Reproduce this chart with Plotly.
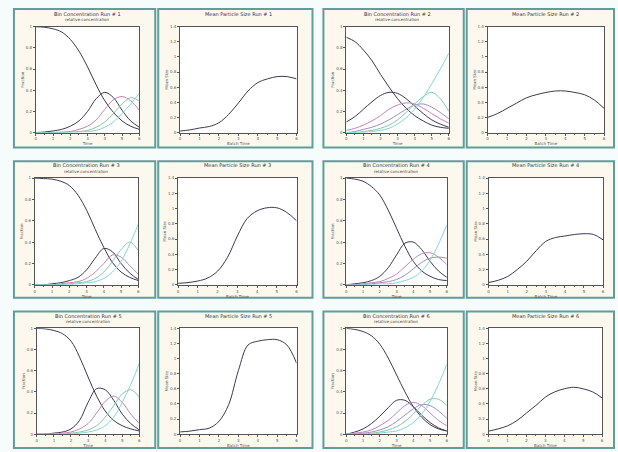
import plotly.graph_objects as go

# ---------------- data ----------------
x_time = [0, 0.5, 1, 1.5, 2, 2.5, 3, 3.5, 4, 4.5, 5, 5.5, 6]
run_labels = ["1", "2", "3", "4", "5", "6"]

# run 1
r1_decay = [1.0, 0.995, 0.98, 0.95, 0.88, 0.77, 0.62, 0.45, 0.30, 0.19, 0.11, 0.06, 0.03]
r1_bin2 = [0, 0.005, 0.015, 0.03, 0.06, 0.11, 0.20, 0.32, 0.38, 0.33, 0.21, 0.11, 0.05]
r1_bin3 = [0, 0, 0, 0.005, 0.01, 0.03, 0.06, 0.12, 0.22, 0.31, 0.34, 0.30, 0.21]
r1_bin4 = [0, 0, 0, 0, 0.005, 0.01, 0.02, 0.05, 0.10, 0.18, 0.27, 0.33, 0.30]
r1_bin5 = [0, 0, 0, 0, 0, 0.005, 0.01, 0.02, 0.05, 0.10, 0.18, 0.27, 0.37]
r1_size = [0.02, 0.035, 0.06, 0.08, 0.13, 0.24, 0.39, 0.55, 0.66, 0.71, 0.74, 0.74, 0.71]

# run 2
r2_decay = [0.9, 0.86, 0.78, 0.68, 0.55, 0.43, 0.32, 0.23, 0.16, 0.11, 0.07, 0.05, 0.04]
r2_bin2 = [0.1, 0.15, 0.22, 0.29, 0.35, 0.38, 0.37, 0.32, 0.25, 0.18, 0.12, 0.08, 0.05]
r2_bin3 = [0.02, 0.04, 0.07, 0.11, 0.16, 0.22, 0.26, 0.28, 0.27, 0.23, 0.18, 0.13, 0.09]
r2_bin4 = [0, 0.01, 0.03, 0.05, 0.08, 0.12, 0.17, 0.22, 0.26, 0.27, 0.24, 0.19, 0.13]
r2_bin5 = [0, 0, 0.01, 0.02, 0.04, 0.07, 0.12, 0.19, 0.27, 0.34, 0.38, 0.32, 0.20]
r2_bin6 = [0, 0, 0, 0.01, 0.02, 0.04, 0.08, 0.14, 0.22, 0.33, 0.46, 0.60, 0.75]
r2_size = [0.20, 0.25, 0.32, 0.39, 0.46, 0.50, 0.53, 0.55, 0.55, 0.53, 0.50, 0.43, 0.32]

# run 3
r3_decay = [1.0, 0.995, 0.99, 0.97, 0.93, 0.84, 0.70, 0.52, 0.35, 0.21, 0.12, 0.07, 0.04]
r3_bin2 = [0, 0, 0.01, 0.02, 0.04, 0.07, 0.14, 0.25, 0.34, 0.31, 0.20, 0.11, 0.05]
r3_bin3 = [0, 0, 0, 0.01, 0.02, 0.03, 0.06, 0.12, 0.20, 0.28, 0.26, 0.18, 0.10]
r3_bin4 = [0, 0, 0, 0, 0.01, 0.02, 0.03, 0.06, 0.12, 0.22, 0.33, 0.40, 0.32]
r3_bin5 = [0, 0, 0, 0, 0, 0.01, 0.02, 0.03, 0.06, 0.12, 0.22, 0.38, 0.57]
r3_size = [0.02, 0.03, 0.05, 0.09, 0.18, 0.36, 0.64, 0.87, 0.97, 1.01, 1.01, 0.95, 0.84]

# run 4
r4_decay = [1.0, 0.99, 0.97, 0.92, 0.84, 0.70, 0.53, 0.36, 0.22, 0.13, 0.08, 0.05, 0.04]
r4_bin2 = [0, 0.01, 0.02, 0.04, 0.08, 0.16, 0.28, 0.39, 0.40, 0.33, 0.22, 0.13, 0.07]
r4_bin3 = [0, 0, 0.01, 0.02, 0.03, 0.06, 0.10, 0.17, 0.24, 0.29, 0.30, 0.26, 0.19]
r4_bin4 = [0, 0, 0, 0.01, 0.02, 0.03, 0.05, 0.09, 0.15, 0.21, 0.25, 0.26, 0.25]
r4_bin5 = [0, 0, 0, 0, 0.01, 0.01, 0.02, 0.04, 0.07, 0.13, 0.23, 0.38, 0.56]
r4_size = [0.03, 0.06, 0.11, 0.20, 0.31, 0.45, 0.57, 0.62, 0.64, 0.66, 0.67, 0.66, 0.59]

# run 5
r5_decay = [1.0, 0.995, 0.98, 0.95, 0.88, 0.73, 0.54, 0.36, 0.22, 0.13, 0.08, 0.05, 0.03]
r5_bin2 = [0, 0, 0.01, 0.02, 0.05, 0.13, 0.30, 0.43, 0.42, 0.32, 0.19, 0.10, 0.04]
r5_bin3 = [0, 0, 0, 0.01, 0.02, 0.05, 0.10, 0.20, 0.31, 0.36, 0.30, 0.19, 0.10]
r5_bin4 = [0, 0, 0, 0, 0.01, 0.02, 0.04, 0.08, 0.16, 0.27, 0.38, 0.42, 0.35]
r5_bin5 = [0, 0, 0, 0, 0, 0.01, 0.02, 0.04, 0.08, 0.16, 0.30, 0.47, 0.67]
r5_size = [0.03, 0.04, 0.06, 0.08, 0.17, 0.39, 0.84, 1.18, 1.23, 1.25, 1.25, 1.18, 0.94]

# run 6
r6_decay = [1.0, 0.99, 0.97, 0.93, 0.85, 0.72, 0.56, 0.40, 0.26, 0.16, 0.09, 0.05, 0.03]
r6_bin2 = [0, 0.02, 0.05, 0.10, 0.17, 0.25, 0.32, 0.32, 0.26, 0.18, 0.11, 0.06, 0.03]
r6_bin3 = [0, 0.01, 0.02, 0.04, 0.08, 0.13, 0.20, 0.27, 0.30, 0.27, 0.20, 0.13, 0.08]
r6_bin4 = [0, 0, 0.01, 0.02, 0.04, 0.07, 0.12, 0.18, 0.24, 0.28, 0.27, 0.22, 0.15]
r6_bin5 = [0, 0, 0, 0.01, 0.02, 0.04, 0.07, 0.12, 0.19, 0.27, 0.33, 0.33, 0.27]
r6_bin6 = [0, 0, 0, 0, 0.01, 0.02, 0.03, 0.06, 0.11, 0.19, 0.31, 0.47, 0.66]
r6_size = [0.04, 0.07, 0.11, 0.18, 0.28, 0.38, 0.49, 0.56, 0.60, 0.62, 0.60, 0.56, 0.48]

left_ticks = [0, 0.2, 0.4, 0.6, 0.8, 1.0]
right_ticks = [0, 0.2, 0.4, 0.6, 0.8, 1.0, 1.2, 1.4]
time_ticks = [0, 1, 2, 3, 4, 5, 6]

# ---------------- styling ----------------
C_DARK = "#3c3852"
C_PINK = "#c283b9"
C_PURP = "#9d8cc6"
C_GREEN = "#86c7a2"
C_CYAN = "#84d5d4"
FRAME = "#5e9f9b"
CREAM = "#fcf8ee"

runs = [
    ([(r1_decay, C_DARK), (r1_bin2, C_DARK), (r1_bin3, C_PINK), (r1_bin4, C_GREEN), (r1_bin5, C_CYAN)], r1_size),
    ([(r2_decay, C_DARK), (r2_bin2, C_DARK), (r2_bin3, C_PINK), (r2_bin4, C_PURP), (r2_bin5, C_GREEN), (r2_bin6, C_CYAN)], r2_size),
    ([(r3_decay, C_DARK), (r3_bin2, C_DARK), (r3_bin3, C_PINK), (r3_bin4, C_GREEN), (r3_bin5, C_CYAN)], r3_size),
    ([(r4_decay, C_DARK), (r4_bin2, C_DARK), (r4_bin3, C_PINK), (r4_bin4, C_PURP), (r4_bin5, C_CYAN)], r4_size),
    ([(r5_decay, C_DARK), (r5_bin2, C_DARK), (r5_bin3, C_PINK), (r5_bin4, C_GREEN), (r5_bin5, C_CYAN)], r5_size),
    ([(r6_decay, C_DARK), (r6_bin2, C_DARK), (r6_bin3, C_PINK), (r6_bin4, C_PURP), (r6_bin5, C_GREEN), (r6_bin6, C_CYAN)], r6_size),
]

W, H = 618, 452


def fx(v):
    return v / W


def fy(v):
    return 1 - v / H


rows_y = [(6, 146), (160, 298), (312, 450)]
plot_y = [(24, 131), (177, 285), (329, 436)]
pair_frames_x = [((13, 155), (158, 313)), ((324, 465), (468, 616))]
plot_x = [
    [((35, 139), (180, 297)), ((347, 450), (489, 606))],
    [((34, 138), (178, 297)), ((347, 448), (490, 605))],
    [((36, 139), (180, 297)), ((347, 448), (490, 604))],
]

fig = go.Figure()
frame_shapes = []
white_shapes = []
annotations = []
layout_axes = {}
ax_n = 0

for idx, (bins, size) in enumerate(runs):
    r, c = divmod(idx, 2)
    y0f, y1f = rows_y[r]
    for (fx0, fx1) in pair_frames_x[c]:
        frame_shapes.append(dict(type="rect", xref="paper", yref="paper",
                                 x0=fx(fx0), x1=fx(fx1), y0=fy(y1f), y1=fy(y0f),
                                 line=dict(color=FRAME, width=2), fillcolor=CREAM, layer="below"))
    (lx, rx) = plot_x[r][c]
    py0, py1 = plot_y[r]
    for side, (dx0, dx1) in enumerate([lx, rx]):
        ax_n += 1
        xa = "x" if ax_n == 1 else f"x{ax_n}"
        ya = "y" if ax_n == 1 else f"y{ax_n}"
        white_shapes.append(dict(type="rect", xref="paper", yref="paper",
                                 x0=fx(dx0), x1=fx(dx1), y0=fy(py1), y1=fy(py0),
                                 line=dict(width=0), fillcolor="#ffffff", layer="below"))
        if side == 0:
            for vals, col in bins:
                fig.add_trace(go.Scatter(x=x_time, y=vals, mode="lines", xaxis=xa, yaxis=ya,
                                         line=dict(color=col, width=1, shape="spline"),
                                         showlegend=False, hoverinfo="skip"))
            yr, yt = [0, 1.0], left_ticks
            ytitle, xtitle = "Fraction", "Time"
            title = f"Bin Concentration Run # {run_labels[idx]}"
            sub = "relative concentration"
        else:
            fig.add_trace(go.Scatter(x=x_time, y=size, mode="lines", xaxis=xa, yaxis=ya,
                                     line=dict(color=C_DARK, width=1, shape="spline"),
                                     showlegend=False, hoverinfo="skip"))
            yr, yt = [0, 1.4], right_ticks
            ytitle, xtitle = "Mean Size", "Batch Time"
            title = f"Mean Particle Size Run # {run_labels[idx]}"
            sub = None
        common = dict(showline=True, linecolor="#555555", linewidth=1, mirror=True,
                      ticks="outside", ticklen=2, tickcolor="#555555", showgrid=False,
                      zeroline=False, tickfont=dict(size=4, color="#555555"),
                      title_font=dict(size=4, color="#555555"), title_standoff=1)
        layout_axes["xaxis" if ax_n == 1 else f"xaxis{ax_n}"] = dict(
            domain=[fx(dx0), fx(dx1)], anchor=ya, range=[0, 6], tickvals=time_ticks,
            minor=dict(ticks="outside", ticklen=1, dtick=0.5, tickcolor="#555555"),
            title_text=xtitle, **common)
        layout_axes["yaxis" if ax_n == 1 else f"yaxis{ax_n}"] = dict(
            domain=[fy(py1), fy(py0)], anchor=xa, range=yr, tickvals=yt,
            title_text=ytitle, **common)
        cx = fx((dx0 + dx1) / 2)
        annotations.append(dict(text=title, x=cx, y=fy(py0 - 13), xref="paper", yref="paper",
                                showarrow=False, font=dict(size=5, color="#333333"),
                                xanchor="center", yanchor="middle"))
        if sub:
            annotations.append(dict(text=sub, x=cx, y=fy(py0 - 7), xref="paper", yref="paper",
                                    showarrow=False, font=dict(size=4, color="#444444"),
                                    xanchor="center", yanchor="middle"))

fig.update_layout(width=W, height=H, margin=dict(l=0, r=0, t=0, b=0),
                  paper_bgcolor="#f6fbfb", plot_bgcolor="rgba(0,0,0,0)",
                  font=dict(family="DejaVu Sans"),
                  shapes=frame_shapes + white_shapes, annotations=annotations, **layout_axes)
fig.write_html("out.html", config={"displayModeBar": False},
               post_script="document.body.style.margin='0';document.body.style.padding='0';document.body.style.overflow='hidden';")
